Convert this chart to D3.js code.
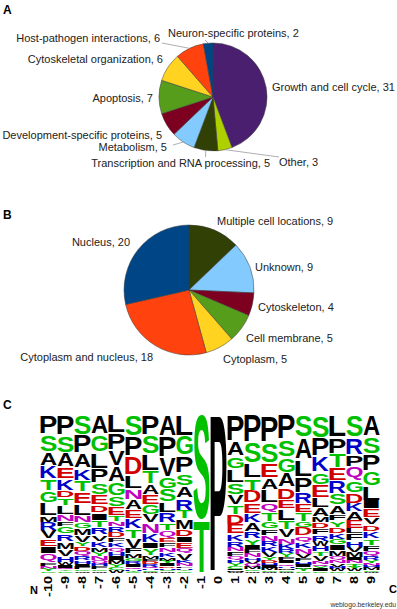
<!DOCTYPE html>
<html><head><meta charset="utf-8">
<script src="https://cdn.jsdelivr.net/npm/d3@7/dist/d3.min.js"></script>
<style>body{margin:0;background:#fff;} svg{display:block;}</style>
</head><body>
<svg id="chart" width="397" height="609"></svg>
<script>
// ---------- Panel A data ----------
const pieACategories = ["Growth and cell cycle","Other","Transcription and RNA processing","Metabolism","Development-specific proteins","Apoptosis","Cytoskeletal organization","Host-pathogen interactions","Neuron-specific proteins"];
const pieAValues = [31,3,5,5,5,7,6,6,2];
const pieAColors = ["#4b1f6f","#aecf00","#314004","#83caff","#7e0021","#579d1c","#ffd320","#ff420e","#004586"];

// ---------- Panel B data ----------
const pieBCategories = ["Multiple cell locations","Unknown","Cytoskeleton","Cell membrane","Cytoplasm","Cytoplasm and nucleus","Nucleus"];
const pieBValues = [9,9,4,5,5,18,20];
const pieBColors = ["#314004","#83caff","#7e0021","#579d1c","#ffd320","#ff420e","#004586"];

// ---------- Panel C data (sequence logo, letter frequencies, top to bottom) ----------
const logoPositions = [-10,-9,-8,-7,-6,-5,-4,-3,-2,-1,0,1,2,3,4,5,6,7,8,9];
const logoLetters = [
  "PSAKTGLMRVEIQFNYC",
  "PSAEKDTLNFGRMVHWIQYC",
  "SPAKTELNGMVYDQRHIFCW",
  "AGLPSEDITRVKMYNQHFCW",
  "LPVAGSETNRDFKQHIMYCW",
  "SPDLNAEKTVFMGRIQHYC",
  "PSLTAEGVNKIYMFDRQHCW",
  "APVGSLRTQEFNKMYIDHCW",
  "LGPSARTMDIEQVKNFHYC",
  "ST",
  "P",
  "PAGLSVTDEKRNFQHYCIMW",
  "PSLTDEKARYIFNHVQMCW",
  "PSEALQTGFNRKVYDHIMCW",
  "PSGADELTVNKRYFIQHMCW",
  "SALPRETGDQKNVFHIMYC",
  "SPKGELAMDFRWHTVNQYIC",
  "LPTERSAFYDKGIMQNVHWC",
  "SRPQGDKAELFHVMINTYWC",
  "ASPGLIEVDKTFQRYNHMCW"
];
const logoFreqs = [
  [19,18,14,13,11.5,11.5,13,6.5,8.5,8,7.5,7.5,8.5,3.5,3,2.5,1.5],
  [20,18,14.5,12,11.5,7.5,7.5,9.5,7,5,7,8,7.5,7.5,6,3,2.5,2,1.5,1.5],
  [20,18,14.5,12.5,11.5,11.5,11.5,7.5,5.5,7,6.5,4.5,4,5,4.5,3.5,3,2.5,2,1.5],
  [19,18,16.5,14.5,12,10,8,7,7,8,6.5,5.5,5,4,4,3.5,3,3,2,1.5],
  [18,17,16,16,14,10,8.5,6.5,5,5.5,5,5,5,4.5,4,4,4,3.5,3,2.5],
  [20,19,17,13,10,10,8,10,9,9,5,4,3,3,2.5,2,1.5,1,1],
  [20,18,17,13,10,10,10,8,10,9,6,7,3,3,2.5,2.5,2,1.5,1.5,1],
  [21,21,19,12,13,10,10,8,8,4,5,5,5,3,2.5,2.5,2,2,1.5,1.5],
  [20,19,17,12,12,12,8,10,7,6,5,5,7,3,2.5,2,1.5,1.5,1.5],
  [105,52],
  [157],
  [25,14,12,13,11,10,9,9,9,7,6,4,4,4,3,3,2,1.5,1.5,1],
  [26,20,14,12,12,10,9,8,7,6,4,4,4,3,3,3,2,2,1.5],
  [26,20,14,12,12,9,9,7,6,6,5,5,5,3,3,2.5,2,2,1.5,1],
  [24,17,15,14,12,9,11,9,8,6,5,4,4,3,3,2.5,2,2,1.5,1],
  [22,21,17,16,11,8,9,6,8,6,6,6,4,3,3,2.5,2,2,1.5],
  [22,18,15,12,12,10,8,6,6,6,6,5,5,4,5,3,2.5,2,2,2],
  [21,16,14,12,12,11,9,6,6,6,6,5,5,6,4,3,3,2.5,2,1.5],
  [22,17,11,14,12,10,8,8,8,5,7,6,5,5,3,3,3,2.5,2,1.5],
  [20,17,16,14,14,8,8,7,6,7,6,6,5,3.5,3,2.5,2,2,1.5,1]
];
const residueGroups = [
  {letters:"GSTYC", color:"#00c000"},
  {letters:"NQ", color:"#c000c0"},
  {letters:"KRH", color:"#0000c8"},
  {letters:"DE", color:"#d00000"},
  {letters:"PAWFLIMV", color:"#000000"}
];

// ---------- layout (not data) ----------
const FONT = "'Liberation Sans', Arial, sans-serif";
const layoutA = {cx:213, cy:97, r:54};
const layoutB = {cx:189, cy:290, r:65};
const labelsA = [
  {x:272, y:91, a:"start"}, {x:279, y:166, a:"start"}, {x:270, y:167, a:"end"},
  {x:167, y:151, a:"end"}, {x:162, y:139, a:"end"}, {x:153, y:102, a:"end"},
  {x:163, y:63, a:"end"}, {x:160, y:41.5, a:"end"}, {x:168, y:37, a:"start"}
];
const leadersA = [ {i:1, x:279, y:157}, {i:2, x:205.5, y:157}, {i:3, x:173, y:145}, {i:7, x:162, y:43}, {i:8, x:205, y:40} ];
const labelsB = [
  {x:217, y:225, a:"start"}, {x:255, y:271, a:"start"}, {x:258, y:311, a:"start"},
  {x:246, y:342, a:"start"}, {x:223, y:363, a:"start"}, {x:153, y:361, a:"end"}, {x:130, y:246, a:"end"}
];

const svg = d3.select("#chart");
svg.append("rect").attr("width",397).attr("height",609).attr("fill","#fff");

// panel letters
[["A",3,14],["B",3,219],["C",3,409]].forEach(([t,x,y])=>{
  svg.append("text").attr("x",x).attr("y",y).text(t)
    .attr("font-family",FONT).attr("font-weight","bold").attr("font-size",12).attr("fill","#000");
});

function drawPie(values, cats, colors, L, labels, leaders){
  const pie = d3.pie().sort(null).value(d=>d)(values);
  const arc = d3.arc().innerRadius(0).outerRadius(L.r);
  const g = svg.append("g").attr("transform",`translate(${L.cx},${L.cy})`);
  g.selectAll("path").data(pie).join("path")
    .attr("d",arc).attr("fill",(d,i)=>colors[i])
    .attr("stroke","#3a3a3a").attr("stroke-width",0.5);
  if (leaders) leaders.forEach(ld=>{
    const d = pie[ld.i]; const a = (d.startAngle+d.endAngle)/2;
    const px = L.cx + L.r*Math.sin(a), py = L.cy - L.r*Math.cos(a);
    svg.append("line").attr("x1",px).attr("y1",py).attr("x2",ld.x).attr("y2",ld.y)
      .attr("stroke","#9a9a9a").attr("stroke-width",0.8);
  });
  labels.forEach((lb,i)=>{
    svg.append("text").attr("x",lb.x).attr("y",lb.y).attr("text-anchor",lb.a)
      .attr("font-family",FONT).attr("font-size",11).attr("fill","#222")
      .text(`${cats[i]}, ${values[i]}`);
  });
}
drawPie(pieAValues, pieACategories, pieAColors, layoutA, labelsA, leadersA);
drawPie(pieBValues, pieBCategories, pieBColors, layoutB, labelsB, null);

// ---------- sequence logo ----------
const colorOf = ch => (residueGroups.find(g=>g.letters.includes(ch))||{color:"#000"}).color;
const x = d3.scaleBand().domain(logoPositions).range([40,380]).padding(0);
const y = d3.scaleLinear().domain([0,1]).range([573,415]);
const ctx = document.createElement("canvas").getContext("2d");
ctx.font = "bold 100px 'Liberation Sans'";
const metrics = {};
function met(ch){
  if(!metrics[ch]){ const m = ctx.measureText(ch);
    metrics[ch] = {l:m.actualBoundingBoxLeft, r:m.actualBoundingBoxRight, a:m.actualBoundingBoxAscent, d:m.actualBoundingBoxDescent}; }
  return metrics[ch];
}
const logo = svg.append("g");
logoPositions.forEach((pos,ci)=>{
  const letters = logoLetters[ci].split("");
  const vals = logoFreqs[ci];
  const tot = d3.sum(vals);
  let cum = 0;
  letters.forEach((ch,k)=>{
    const p = vals[k]/tot;
    const yTop = y(1-cum), yBot = y(1-cum-p);
    cum += p;
    const h = yBot-yTop;
    const gap = Math.min(1.0, h*0.07);
    const x0 = x(pos)+0.4, x1 = x(pos)+x.bandwidth()-0.4;
    const m = met(ch);
    const sx = (x1-x0)/(m.l+m.r), sy = (h-2*gap)/(m.a+m.d);
    logo.append("text").text(ch)
      .attr("font-family","'Liberation Sans'").attr("font-weight","bold").attr("font-size",100)
      .attr("fill",colorOf(ch))
      .attr("transform",`translate(${x0+m.l*sx},${yTop+gap+m.a*sy}) scale(${sx},${sy})`);
  });
  logo.append("text").text(pos)
    .attr("font-family",FONT).attr("font-weight","bold").attr("font-size",10)
    .attr("text-anchor","end").attr("dominant-baseline","central").attr("fill","#000")
    .attr("transform",`translate(${x(pos)+x.bandwidth()/2},576) rotate(-90) scale(1.45,1)`);
});
svg.append("text").attr("x",30).attr("y",594).text("N")
  .attr("font-family",FONT).attr("font-weight","bold").attr("font-size",11);
svg.append("text").attr("x",389).attr("y",593).text("C")
  .attr("font-family",FONT).attr("font-weight","bold").attr("font-size",11);
svg.append("text").attr("x",396).attr("y",607).attr("text-anchor","end").text("weblogo.berkeley.edu")
  .attr("font-family",FONT).attr("font-size",6.8).attr("fill","#333");
</script>
</body></html>
